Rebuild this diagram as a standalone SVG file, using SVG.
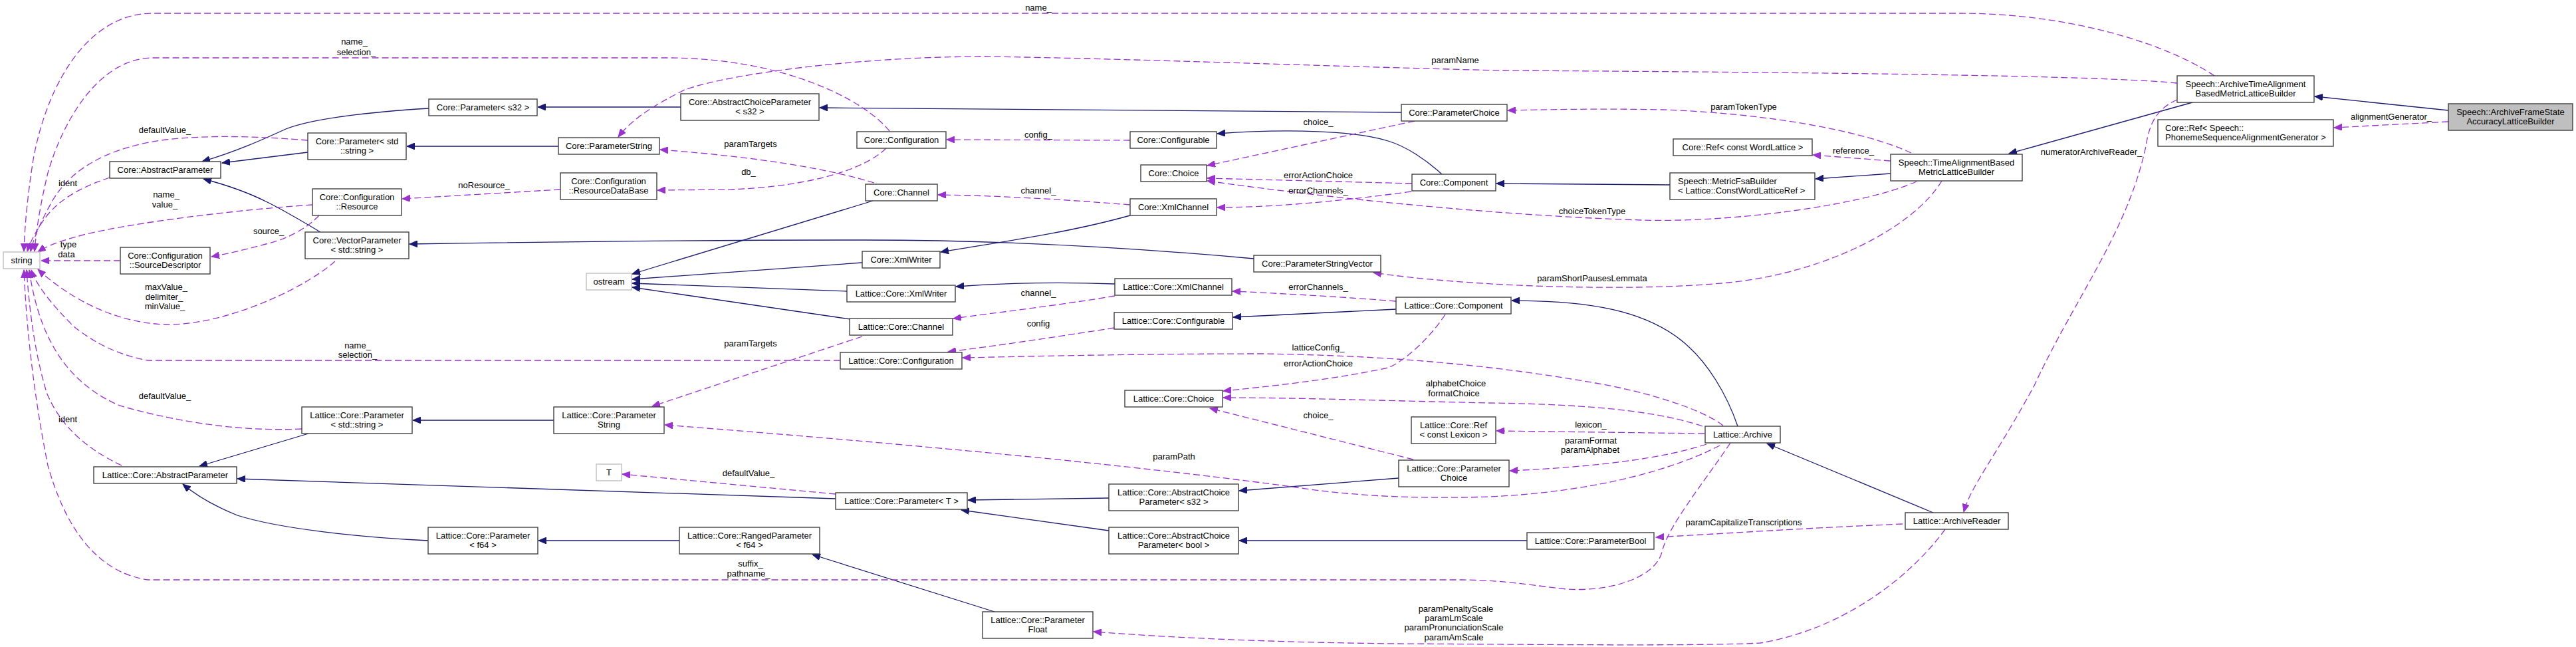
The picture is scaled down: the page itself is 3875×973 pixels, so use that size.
<svg xmlns="http://www.w3.org/2000/svg" width="3875" height="973" viewBox="0 0 3875 973">
<style>
text{font-family:"Liberation Sans",Arial,Helvetica,sans-serif;font-size:13px;fill:#000}
.node rect{fill:#fff;stroke:#404040;stroke-width:1.4}
.node text{text-anchor:middle}
.node.l text{text-anchor:start}
.node.gray rect{stroke:#bfbfbf}
.node.root rect{fill:#bfbfbf}
.s{fill:none;stroke:#191970;stroke-width:1.3;marker-end:url(#ab)}
.d{fill:none;stroke:#9a32cd;stroke-width:1.3;stroke-dasharray:10,5;marker-end:url(#ap)}
.lbl text{text-anchor:middle}
</style>
<defs>
<marker id="ab" markerWidth="13" markerHeight="10" refX="12" refY="5" orient="auto" markerUnits="userSpaceOnUse"><path d="M0,0 L12,5 L0,10 z" fill="#191970" stroke="#191970"/></marker>
<marker id="ap" markerWidth="13" markerHeight="10" refX="12" refY="5" orient="auto" markerUnits="userSpaceOnUse"><path d="M0,0 L12,5 L0,10 z" fill="#9a32cd" stroke="#9a32cd"/></marker>
</defs>
<rect width="3875" height="973" fill="#fff"/>
<g id="connectors">
<path class="s" d="M645,163 C560,168 470,178 430,194 C395,210 355,228 304,243"/>
<path class="s" d="M463,229 L334,245"/>
<path class="s" d="M482,349 C455,333 425,315 400,303 C370,288 340,278 306,269"/>
<path class="s" d="M1024,161 L809,161"/>
<path class="s" d="M2108,169 C1800,166 1500,163 1233,162"/>
<path class="s" d="M840,220 L612,220"/>
<path class="s" d="M1313,302 L951,412"/>
<path class="s" d="M1297,395 L951,420"/>
<path class="s" d="M1274,438 L951,426"/>
<path class="s" d="M1279,480 L951,432"/>
<path class="s" d="M1886,389 C1700,372 1500,361 1300,361 C1000,361 800,364 616,367"/>
<path class="s" d="M1700,324 C1600,352 1490,366 1415,379"/>
<path class="s" d="M1677,427 C1600,424 1520,425 1438,431"/>
<path class="s" d="M833,632 L621,632"/>
<path class="s" d="M464,652 L300,701"/>
<path class="s" d="M1257,750 L357,720"/>
<path class="s" d="M644,813 C540,808 420,795 357,775 C320,760 295,745 275,728"/>
<path class="s" d="M1022,813 L810,813"/>
<path class="s" d="M1496,920 L1222,834"/>
<path class="s" d="M2169,262 C2145,240 2115,220 2088,212 C2040,197 1940,193 1831,201"/>
<path class="s" d="M2100,465 L1855,477"/>
<path class="s" d="M2844,261 L2731,269"/>
<path class="s" d="M2512,278 L2251,276"/>
<path class="s" d="M2614,641 C2600,600 2570,540 2520,505 C2470,470 2400,452 2274,452"/>
<path class="s" d="M2104,719 L1864,738"/>
<path class="s" d="M1668,749 L1456,752"/>
<path class="s" d="M1668,798 L1446,767"/>
<path class="s" d="M2297,813 L1864,813"/>
<path class="s" d="M2908,771 L2658,667"/>
<path class="s" d="M3298,154 L3022,231"/>
<path class="s" d="M3683,166 L3482,145"/>

<path class="d" d="M3331,114 C3250,60 3100,20 2950,20 L230,20 C130,20 70,130 50,240 C42,290 37,340 36,378"/>
<path class="d" d="M1338,197 C1300,150 1180,88 1007,87 L230,87 C150,87 95,180 72,260 C60,310 54,350 52,378"/>
<path class="d" d="M3275,125 C3150,112 2600,108 2260,106 C2000,100 1700,88 1480,85 C1300,85 1100,110 1030,135 C980,160 950,180 930,206"/>
<path class="d" d="M463,211 C400,206 320,202 250,210 C170,220 110,250 80,300 C60,335 50,360 46,378"/>
<path class="d" d="M165,267 C120,282 90,300 70,325 C55,345 45,365 41,378"/>
<path class="d" d="M470,308 C350,316 200,335 130,352 C90,362 70,370 57,379"/>
<path class="d" d="M480,324 C460,345 430,360 400,367 C370,375 345,381 318,386"/>
<path class="d" d="M181,392 L62,392"/>
<path class="d" d="M504,393 C450,440 330,490 250,488 C170,486 100,445 57,405"/>
<path class="d" d="M843,285 L605,299"/>
<path class="d" d="M1333,223 C1300,255 1220,280 1100,285 L989,286"/>
<path class="d" d="M1315,275 C1250,255 1150,237 993,225"/>
<path class="d" d="M1700,211 L1424,210"/>
<path class="d" d="M1700,308 C1600,300 1500,294 1411,293"/>
<path class="d" d="M2128,182 L1816,249"/>
<path class="d" d="M2124,276 L1816,268"/>
<path class="d" d="M2123,288 C2000,305 1900,312 1831,312"/>
<path class="d" d="M2883,273 C2800,310 2600,335 2470,331 C2300,326 2050,305 1816,272"/>
<path class="d" d="M2921,272 C2880,340 2750,410 2600,425 C2450,440 2200,430 2066,410"/>
<path class="d" d="M1677,445 C1600,458 1500,470 1434,479"/>
<path class="d" d="M2100,453 C2000,445 1900,440 1854,438"/>
<path class="d" d="M1676,493 C1600,505 1500,520 1426,529"/>
<path class="d" d="M2174,473 C2150,510 2110,545 2088,553 C2000,572 1900,582 1840,588"/>
<path class="d" d="M2592,640 C2560,615 2480,590 2400,576 C2250,550 2100,535 1900,532 C1700,532 1550,536 1448,538"/>
<path class="d" d="M2561,641 C2500,620 2400,608 2240,606 C2100,603 1950,598 1840,598"/>
<path class="d" d="M2126,691 L1820,614"/>
<path class="d" d="M2564,652 L2251,648"/>
<path class="d" d="M2567,668 C2500,690 2400,702 2271,708"/>
<path class="d" d="M2587,670 C2520,705 2400,740 2240,747 C2150,750 2050,748 1950,733 C1800,712 1500,678 1000,639"/>
<path class="d" d="M1257,743 L936,713"/>
<path class="d" d="M1297,506 L981,611"/>
<path class="d" d="M1264,542 L223,542 C180,535 140,515 110,490 C80,460 55,430 47,406"/>
<path class="d" d="M454,645 C350,650 250,630 180,610 C110,580 60,520 44,406"/>
<path class="d" d="M183,700 C130,675 90,640 70,590 C55,540 45,480 40,406"/>
<path class="d" d="M2603,666 C2560,730 2510,790 2500,830 C2490,870 2420,890 2357,886 C2300,880 2270,873 2200,872 L223,872 C150,862 100,800 72,700 C52,600 40,500 36,406"/>
<path class="d" d="M2862,788 C2700,795 2600,802 2491,808"/>
<path class="d" d="M2926,796 C2880,860 2780,945 2648,967 C2550,972 2300,969 2100,968 C1900,966 1750,958 1645,950"/>
<path class="d" d="M3275,150 C3245,163 3233,185 3228,220 C3200,350 3120,450 3060,580 C3000,690 2965,730 2954,770"/>
<path class="d" d="M3683,183 L3511,192"/>
<path class="d" d="M2875,230 C2800,195 2650,170 2500,165 C2400,163 2320,165 2268,166"/>
<path class="d" d="M2844,242 L2727,233"/>
</g>
<g id="edge-labels" class="lbl">
<text x="1562" y="16">name_</text>
<text x="533" y="67">name_</text><text x="536" y="83">selection_</text>
<text x="2189" y="95">paramName</text>
<text x="248" y="200">defaultValue_</text>
<text x="102" y="280">ident</text>
<text x="250" y="297">name_</text><text x="248" y="312">value_</text>
<text x="404" y="352">source_</text>
<text x="103" y="372">type</text><text x="100" y="387">data</text>
<text x="250" y="436">maxValue_</text><text x="247" y="451">delimiter_</text><text x="248" y="465">minValue_</text>
<text x="728" y="283">noResource_</text>
<text x="1126" y="263">db_</text>
<text x="1129" y="221">paramTargets</text>
<text x="1562" y="207">config_</text>
<text x="1562" y="291">channel_</text>
<text x="1983" y="188">choice_</text>
<text x="1983" y="268">errorActionChoice</text>
<text x="1983" y="291">errorChannels_</text>
<text x="2395" y="322">choiceTokenType</text>
<text x="2395" y="423">paramShortPausesLemmata</text>
<text x="1562" y="445">channel_</text>
<text x="1983" y="436">errorChannels_</text>
<text x="1562" y="491">config</text>
<text x="1983" y="527">latticeConfig_</text>
<text x="1983" y="551">errorActionChoice</text>
<text x="2190" y="581">alphabetChoice</text><text x="2187" y="596">formatChoice</text>
<text x="1983" y="629">choice_</text>
<text x="2393" y="643">lexicon_</text>
<text x="2393" y="667">paramFormat</text><text x="2392" y="681">paramAlphabet</text>
<text x="1766" y="691">paramPath</text>
<text x="1126" y="716">defaultValue_</text>
<text x="1129" y="521">paramTargets</text>
<text x="538" y="524">name_</text><text x="538" y="538">selection_</text>
<text x="248" y="600">defaultValue_</text>
<text x="102" y="635">ident</text>
<text x="1129" y="852">suffix_</text><text x="1126" y="867">pathname_</text>
<text x="2623" y="790">paramCapitalizeTranscriptions</text>
<text x="2190" y="920">paramPenaltyScale</text><text x="2187" y="934">paramLmScale</text><text x="2187" y="948">paramPronunciationScale</text><text x="2187" y="963">paramAmScale</text>
<text x="3146" y="233">numeratorArchiveReader_</text>
<text x="3597" y="180">alignmentGenerator_</text>
<text x="2623" y="165">paramTokenType</text>
<text x="2788" y="231">reference_</text>
</g>
<g id="n-string" class="node gray"><rect x="5" y="379" width="55" height="25"/><text x="32.5" y="396">string</text></g>
<g id="n-core-abstractparameter" class="node"><rect x="165" y="243" width="167" height="25"/><text x="248.5" y="260">Core::AbstractParameter</text></g>
<g id="n-core-parameter-string" class="node"><rect x="463" y="200" width="148" height="40"/><text x="537" y="217">Core::Parameter&lt; std</text><text x="537" y="231">::string &gt;</text></g>
<g id="n-core-configuration-resource" class="node"><rect x="470" y="284" width="134" height="40"/><text x="537" y="301">Core::Configuration</text><text x="537" y="315">::Resource</text></g>
<g id="n-core-vectorparameter" class="node"><rect x="459" y="349" width="156" height="40"/><text x="537" y="366">Core::VectorParameter</text><text x="537" y="380">&lt; std::string &gt;</text></g>
<g id="n-core-sourcedescriptor" class="node"><rect x="181" y="372" width="135" height="40"/><text x="248.5" y="389">Core::Configuration</text><text x="248.5" y="403">::SourceDescriptor</text></g>
<g id="n-core-parameter-s32" class="node"><rect x="645" y="149" width="163" height="25"/><text x="726.5" y="166">Core::Parameter&lt; s32 &gt;</text></g>
<g id="n-core-abstractchoiceparameter-s32" class="node"><rect x="1024" y="141" width="208" height="40"/><text x="1128" y="158">Core::AbstractChoiceParameter</text><text x="1128" y="172">&lt; s32 &gt;</text></g>
<g id="n-core-parameterstring" class="node"><rect x="840" y="207" width="152" height="25"/><text x="916" y="224">Core::ParameterString</text></g>
<g id="n-core-configuration" class="node"><rect x="1289" y="198" width="134" height="25"/><text x="1356" y="215">Core::Configuration</text></g>
<g id="n-core-resourcedatabase" class="node"><rect x="843" y="260" width="145" height="40"/><text x="915.5" y="277">Core::Configuration</text><text x="915.5" y="291">::ResourceDataBase</text></g>
<g id="n-core-channel" class="node"><rect x="1302" y="277" width="108" height="25"/><text x="1356" y="294">Core::Channel</text></g>
<g id="n-ostream" class="node gray"><rect x="882" y="411" width="68" height="25"/><text x="916" y="428">ostream</text></g>
<g id="n-core-xmlwriter" class="node"><rect x="1297" y="378" width="117" height="25"/><text x="1355.5" y="395">Core::XmlWriter</text></g>
<g id="n-lattice-core-xmlwriter" class="node"><rect x="1274" y="429" width="163" height="25"/><text x="1355.5" y="446">Lattice::Core::XmlWriter</text></g>
<g id="n-lattice-core-channel" class="node"><rect x="1278" y="479" width="155" height="25"/><text x="1355.5" y="496">Lattice::Core::Channel</text></g>
<g id="n-lattice-core-configuration" class="node"><rect x="1264" y="530" width="183" height="25"/><text x="1355.5" y="547">Lattice::Core::Configuration</text></g>
<g id="n-lattice-core-parameter-string" class="node"><rect x="454" y="612" width="166" height="40"/><text x="537" y="629">Lattice::Core::Parameter</text><text x="537" y="643">&lt; std::string &gt;</text></g>
<g id="n-lattice-core-abstractparameter" class="node"><rect x="141" y="702" width="215" height="25"/><text x="248.5" y="719">Lattice::Core::AbstractParameter</text></g>
<g id="n-lattice-core-parameterstring" class="node"><rect x="833" y="612" width="166" height="40"/><text x="916" y="629">Lattice::Core::Parameter</text><text x="916" y="643">String</text></g>
<g id="n-t" class="node gray"><rect x="897" y="698" width="38" height="25"/><text x="916" y="715">T</text></g>
<g id="n-lattice-core-parameter-t" class="node"><rect x="1257" y="741" width="198" height="25"/><text x="1356" y="758">Lattice::Core::Parameter&lt; T &gt;</text></g>
<g id="n-lattice-core-parameter-f64" class="node"><rect x="644" y="793" width="165" height="40"/><text x="726.5" y="810">Lattice::Core::Parameter</text><text x="726.5" y="824">&lt; f64 &gt;</text></g>
<g id="n-lattice-core-rangedparameter" class="node"><rect x="1022" y="793" width="211" height="40"/><text x="1127.5" y="810">Lattice::Core::RangedParameter</text><text x="1127.5" y="824">&lt; f64 &gt;</text></g>
<g id="n-core-parameterchoice" class="node"><rect x="2108" y="157" width="159" height="25"/><text x="2187.5" y="174">Core::ParameterChoice</text></g>
<g id="n-core-configurable" class="node"><rect x="1700" y="198" width="130" height="25"/><text x="1765" y="215">Core::Configurable</text></g>
<g id="n-core-choice" class="node"><rect x="1716" y="248" width="99" height="25"/><text x="1765.5" y="265">Core::Choice</text></g>
<g id="n-core-component" class="node"><rect x="2124" y="262" width="126" height="25"/><text x="2187" y="279">Core::Component</text></g>
<g id="n-core-xmlchannel" class="node"><rect x="1700" y="299" width="130" height="25"/><text x="1765" y="316">Core::XmlChannel</text></g>
<g id="n-core-parameterstringvector" class="node"><rect x="1886" y="384" width="191" height="25"/><text x="1981.5" y="401">Core::ParameterStringVector</text></g>
<g id="n-lattice-core-xmlchannel" class="node"><rect x="1677" y="419" width="176" height="25"/><text x="1765" y="436">Lattice::Core::XmlChannel</text></g>
<g id="n-lattice-core-component" class="node"><rect x="2100" y="447" width="173" height="25"/><text x="2186.5" y="464">Lattice::Core::Component</text></g>
<g id="n-lattice-core-configurable" class="node"><rect x="1676" y="470" width="178" height="25"/><text x="1765" y="487">Lattice::Core::Configurable</text></g>
<g id="n-lattice-core-choice" class="node"><rect x="1692" y="587" width="147" height="25"/><text x="1765.5" y="604">Lattice::Core::Choice</text></g>
<g id="n-lattice-core-ref-lexicon" class="node"><rect x="2123" y="627" width="127" height="40"/><text x="2186.5" y="644">Lattice::Core::Ref</text><text x="2186.5" y="658">&lt; const Lexicon &gt;</text></g>
<g id="n-lattice-core-parameterchoice" class="node"><rect x="2104" y="692" width="166" height="40"/><text x="2187" y="709">Lattice::Core::Parameter</text><text x="2187" y="723">Choice</text></g>
<g id="n-lattice-core-abstractchoice-s32" class="node"><rect x="1668" y="728" width="195" height="40"/><text x="1765.5" y="745">Lattice::Core::AbstractChoice</text><text x="1765.5" y="759">Parameter&lt; s32 &gt;</text></g>
<g id="n-lattice-core-abstractchoice-bool" class="node"><rect x="1668" y="793" width="195" height="40"/><text x="1765.5" y="810">Lattice::Core::AbstractChoice</text><text x="1765.5" y="824">Parameter&lt; bool &gt;</text></g>
<g id="n-lattice-core-parameterfloat" class="node"><rect x="1478" y="920" width="166" height="40"/><text x="1561" y="937">Lattice::Core::Parameter</text><text x="1561" y="951">Float</text></g>
<g id="n-core-ref-wordlattice" class="node"><rect x="2517" y="209" width="209" height="25"/><text x="2621.5" y="226">Core::Ref&lt; const WordLattice &gt;</text></g>
<g id="n-speech-timealignmentbased" class="node"><rect x="2844" y="232" width="198" height="40"/><text x="2943" y="249">Speech::TimeAlignmentBased</text><text x="2943" y="263">MetricLatticeBuilder</text></g>
<g id="n-speech-metricfsabuilder" class="node l"><rect x="2512" y="260" width="218" height="40"/><text x="2524" y="277">Speech::MetricFsaBuilder</text><text x="2524" y="291">&lt; Lattice::ConstWordLatticeRef &gt;</text></g>
<g id="n-lattice-archive" class="node"><rect x="2565" y="641" width="113" height="25"/><text x="2621.5" y="658">Lattice::Archive</text></g>
<g id="n-lattice-core-parameterbool" class="node"><rect x="2297" y="801" width="191" height="25"/><text x="2392.5" y="818">Lattice::Core::ParameterBool</text></g>
<g id="n-lattice-archivereader" class="node"><rect x="2866" y="771" width="155" height="25"/><text x="2943.5" y="788">Lattice::ArchiveReader</text></g>
<g id="n-speech-archivetimealignment" class="node"><rect x="3275" y="114" width="206" height="40"/><text x="3378" y="131">Speech::ArchiveTimeAlignment</text><text x="3378" y="145">BasedMetricLatticeBuilder</text></g>
<g id="n-speech-archiveframestate" class="node root"><rect x="3683" y="156" width="187" height="40"/><text x="3776.5" y="173">Speech::ArchiveFrameState</text><text x="3776.5" y="187">AccuracyLatticeBuilder</text></g>
<g id="n-core-ref-phonemeseq" class="node l"><rect x="3246" y="180" width="264" height="40"/><text x="3257" y="197">Core::Ref&lt; Speech::</text><text x="3257" y="211">PhonemeSequenceAlignmentGenerator &gt;</text></g>
</svg>
